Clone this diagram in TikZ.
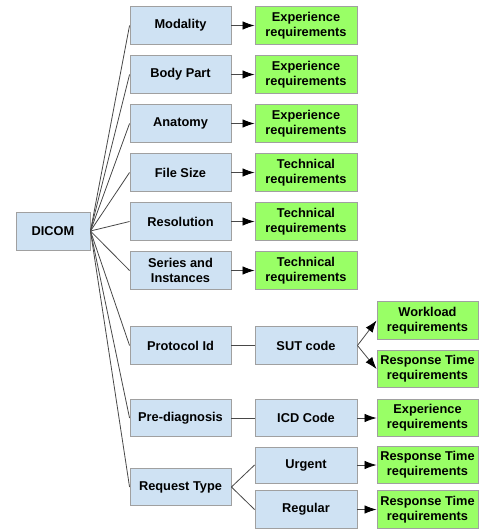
\documentclass[tikz,border=0pt]{standalone}
\usepackage{fontspec}
\setmainfont{Liberation Sans}
\usetikzlibrary{arrows.meta}
\definecolor{boxblue}{RGB}{207,226,243}
\definecolor{boxgreen}{RGB}{153,255,102}
\definecolor{edgegray}{RGB}{160,160,160}
\definecolor{linegray}{RGB}{72,72,72}
\tikzset{
  base/.style={draw=edgegray, line width=0.9pt, align=center, inner sep=0pt,
    font=\fontsize{12.8}{15}\selectfont\bfseries, text=black},
  bluebox/.style={base, fill=boxblue, minimum width=101pt, minimum height=37.5pt},
  greenbox/.style={base, fill=boxgreen, minimum width=102pt, minimum height=37.5pt},
  conn/.style={draw=linegray, line width=0.8pt},
  arr/.style={conn, -{Latex[length=12pt,width=8.5pt,black]}}
}
\begin{document}
\begin{tikzpicture}[x=1pt,y=-1pt]
\useasboundingbox (0,0) rectangle (480,530);
\node[bluebox, minimum width=74pt, minimum height=38pt] (dicom) at (53,231) {DICOM};
% column 1
\node[bluebox] (mod) at (180.5,25.5) {Modality};
\node[bluebox] (body) at (180.5,74.5) {Body Part};
\node[bluebox] (anat) at (180.5,123.5) {Anatomy};
\node[bluebox] (fsize) at (180.5,172.5) {File Size};
\node[bluebox] (res) at (180.5,221.5) {Resolution};
\node[bluebox] (ser) at (180.5,270.5) {Series and\\Instances};
\node[bluebox] (prot) at (180.5,345.5) {Protocol Id};
\node[bluebox] (pre) at (180.5,418) {Pre-diagnosis};
\node[bluebox] (req) at (180.5,487) {Request Type};
% column 2
\node[greenbox] (g1) at (306,25.5) {Experience\\requirements};
\node[greenbox] (g2) at (306,74.5) {Experience\\requirements};
\node[greenbox] (g3) at (306,123.5) {Experience\\requirements};
\node[greenbox] (g4) at (306,172.5) {Technical\\requirements};
\node[greenbox] (g5) at (306,221.5) {Technical\\requirements};
\node[greenbox] (g6) at (306,270.5) {Technical\\requirements};
\node[bluebox, minimum width=102pt] (sut) at (306,345.5) {SUT code};
\node[bluebox, minimum width=102pt] (icd) at (306,418) {ICD Code};
\node[bluebox, minimum width=102pt, minimum height=36pt] (urg) at (306,465) {Urgent};
\node[bluebox, minimum width=102pt] (regl) at (306,509.5) {Regular};
% column 3
\node[greenbox, minimum width=101pt] (work) at (427.5,320.5) {Workload\\requirements};
\node[greenbox, minimum width=101pt] (resp1) at (427.5,369) {Response Time\\requirements};
\node[greenbox, minimum width=101pt] (exp) at (427.5,418) {Experience\\requirements};
\node[greenbox, minimum width=101pt] (resp2) at (427.5,465) {Response Time\\requirements};
\node[greenbox, minimum width=101pt] (resp3) at (427.5,509.5) {Response Time\\requirements};
% connectors
\foreach \n in {mod,body,anat,fsize,res,ser,prot,pre,req}
  \draw[conn] (dicom.east) -- (\n.west);
\draw[arr] (mod) -- (g1);
\draw[arr] (body) -- (g2);
\draw[arr] (anat) -- (g3);
\draw[arr] (fsize) -- (g4);
\draw[arr] (res) -- (g5);
\draw[arr] (ser) -- (g6);
\draw[conn] (prot) -- (sut);
\draw[conn] (pre) -- (icd);
\draw[conn] (req.east) -- (urg.west);
\draw[conn] (req.east) -- (regl.west);
\draw[arr] (sut.east) -- (work.west);
\draw[arr] (sut.east) -- (resp1.west);
\draw[arr] (icd) -- (exp);
\draw[arr] (urg) -- (resp2);
\draw[arr] (regl) -- (resp3);
\end{tikzpicture}
\end{document}
